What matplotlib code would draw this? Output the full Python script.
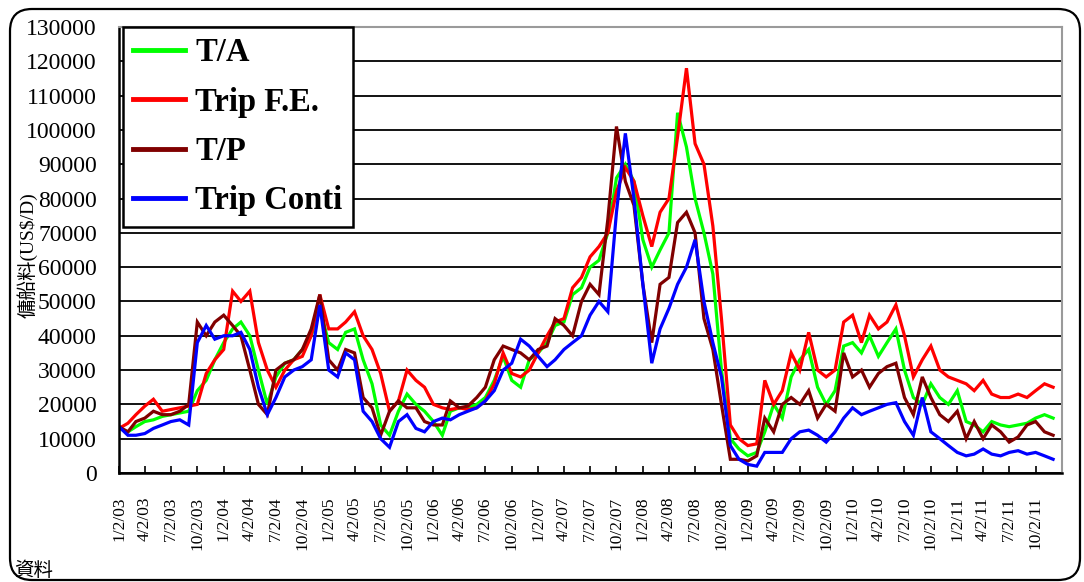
import datetime as dt
import matplotlib
matplotlib.use("Agg")
import matplotlib.pyplot as plt
from matplotlib.patches import FancyBboxPatch
from matplotlib.transforms import IdentityTransform

# Monthly charter rates (US$/day), Jan 2003 - Dec 2011
dates = [dt.datetime(2003 + i // 12, i % 12 + 1, 2) for i in range(108)]

ta = [13000, 12000, 13500, 15000, 15500, 16500, 17000, 17500, 18000, 24000,
      27000, 33000, 38000, 42000, 44000, 40000, 30000, 20000, 28000, 32000,
      33000, 36000, 40000, 48000, 38000, 36000, 41000, 42000, 33000, 26000,
      14000, 11000, 18000, 23000, 20000, 18000, 15000, 11000, 18000, 19000,
      19000, 20000, 22000, 27000, 34000, 27000, 25000, 33000, 35000, 38000,
      43000, 44000, 52000, 54000, 60000, 62000, 70000, 86000, 90000, 85000,
      68000, 60000, 65000, 70000, 105000, 95000, 80000, 70000, 58000, 30000,
      10000, 7000, 5000, 6000, 12000, 20000, 16000, 28000, 33000, 36000,
      25000, 20000, 24000, 37000, 38000, 35000, 40000, 34000, 38000, 42000,
      30000, 22000, 20000, 26000, 22000, 20000, 24000, 15000, 14000, 12000,
      15000, 14000, 13500, 14000, 14500, 16000, 17000, 16000]

trip_fe = [13000, 14500, 17000, 19500, 21500, 18000, 18500, 19000, 19500, 20000,
           29000, 33000, 36000, 53000, 50000, 53000, 38000, 30000, 25000, 30000,
           33000, 34000, 40000, 52000, 42000, 42000, 44000, 47000, 40000, 36000,
           29000, 18000, 21000, 30000, 27000, 25000, 20000, 19000, 18500, 19000,
           18500, 19000, 21000, 26000, 35000, 29000, 28000, 30000, 35000, 40000,
           44000, 45000, 54000, 57000, 63000, 66000, 70000, 82000, 89000, 85000,
           75000, 66000, 76000, 80000, 98000, 118000, 96000, 90000, 72000, 45000,
           14000, 10000, 8000, 8500, 27000, 20000, 24000, 35000, 30000, 41000,
           30000, 28000, 30000, 44000, 46000, 38000, 46000, 42000, 44000, 49000,
           40000, 28000, 33000, 37000, 30000, 28000, 27000, 26000, 24000, 27000,
           23000, 22000, 22000, 23000, 22000, 24000, 26000, 25000]

tp = [13500, 12000, 15000, 16000, 18000, 17000, 17000, 18000, 20000, 44000,
      40000, 44000, 46000, 43000, 40000, 30000, 20000, 17000, 30000, 32000,
      33000, 36000, 42000, 52000, 33000, 30000, 36000, 35000, 22000, 19000,
      11000, 18000, 21000, 19000, 19000, 15000, 14000, 14000, 21000, 19000,
      19500, 22000, 25000, 33000, 37000, 36000, 35000, 33000, 36000, 37000,
      45000, 43000, 40000, 50000, 55000, 52000, 74000, 101000, 85000, 78000,
      55000, 38000, 55000, 57000, 73000, 76000, 70000, 45000, 36000, 20000,
      4000, 4000, 3500, 5000, 16000, 12000, 20000, 22000, 20000, 24000,
      16000, 20000, 18000, 35000, 28000, 30000, 25000, 29000, 31000, 32000,
      22000, 17000, 28000, 22000, 17000, 15000, 18000, 10000, 15000, 10000,
      14000, 12000, 9000, 10500, 14000, 15000, 12000, 11000]

trip_conti = [13500, 11000, 11000, 11500, 13000, 14000, 15000, 15500, 14000, 38000,
              43000, 39000, 40000, 40000, 41000, 36000, 25000, 17000, 22000, 28000,
              30000, 31000, 33000, 49000, 30000, 28000, 35000, 33000, 18000, 15000,
              10000, 7500, 15000, 17000, 13000, 12000, 15000, 16000, 15500, 17000,
              18000, 19000, 21000, 24000, 30000, 32000, 39000, 37000, 34000, 31000,
              33000, 36000, 38000, 40000, 46000, 50000, 47000, 76000, 99000, 80000,
              55000, 32000, 42000, 48000, 55000, 60000, 68000, 50000, 38000, 28000,
              8000, 4000, 2500, 2000, 6000, 6000, 6000, 10000, 12000, 12500,
              11000, 9000, 12000, 16000, 19000, 17000, 18000, 19000, 20000, 20500,
              15000, 11000, 22000, 12000, 10000, 8000, 6000, 5000, 5500, 7000,
              5500, 5000, 6000, 6500, 5500, 6000, 5000, 4000]

series_names = ["T/A", "Trip F.E.", "T/P", "Trip Conti"]
series_colors = ["#00ff00", "#ff0000", "#800000", "#0000ff"]
series_values = [ta, trip_fe, tp, trip_conti]

tick_dates = [dt.datetime(y, m, 2) for y in range(2003, 2012) for m in (1, 4, 7, 10)]
tick_labels = [f"{d.month}/{d.day}/{d:%y}" for d in tick_dates]
y_ticks = list(range(0, 130001, 10000))

serif = "Liberation Serif"

fig = plt.figure(figsize=(10.84, 5.82), dpi=100)
fig.patch.set_facecolor("white")

# rounded outer frame
frame = FancyBboxPatch((10, 2), 1070, 571, boxstyle="round,pad=0,rounding_size=22",
                       transform=IdentityTransform(), facecolor="none",
                       edgecolor="black", linewidth=1.6, zorder=0)
fig.patches.append(frame)

ax = fig.add_axes([119 / 1084, 1 - 473 / 582, (1062 - 119) / 1084, (473 - 27) / 582])

for name, color, vals in zip(series_names, series_colors, series_values):
    ax.plot(dates, vals, color=color, lw=2.3, label=name, solid_joinstyle="miter")

ax.set_ylim(0, 130000)
ax.set_xlim(dt.datetime(2003, 1, 2), dt.datetime(2012, 1, 2))
ax.set_yticks(y_ticks)
ax.set_yticklabels([str(v) for v in y_ticks], fontfamily=serif, fontsize=17)
ax.set_xticks(tick_dates)
ax.set_xticklabels(tick_labels, rotation=90, fontfamily=serif, fontsize=12.5,
                   va="top", ha="center")
ax.tick_params(axis="x", direction="in", length=5, width=1.2, pad=17)
ax.tick_params(axis="y", length=0, pad=16)

ax.grid(axis="y", color="black", lw=1.3)
ax.set_axisbelow(True)
for side in ("left", "bottom"):
    ax.spines[side].set_linewidth(1.8)
    ax.spines[side].set_color("black")
for side in ("top", "right"):
    ax.spines[side].set_linewidth(1.5)
    ax.spines[side].set_color("#9a9a9a")

leg = ax.legend(loc="upper left", bbox_to_anchor=(0.004, 1.0), borderaxespad=0,
                prop={"family": serif, "weight": "bold", "size": 23.5},
                handlelength=1.6, handletextpad=0.3, labelspacing=0.56,
                borderpad=0.32, fancybox=False, framealpha=1)
leg.get_frame().set_edgecolor("black")
leg.get_frame().set_linewidth(1.8)
for line in leg.get_lines():
    line.set_linewidth(3.5)

fig.text(27 / 1084, 1 - 255 / 582, "傭船料(US$/D)", rotation=90, ha="center", va="center",
         fontsize=14, family=[serif, "Noto Sans CJK JP"])
fig.text(14 / 1084, 1 - 560 / 582, "資料", ha="left", va="top", fontsize=14,
         family=["Noto Sans CJK JP"])

fig.savefig("out.png", dpi=100, facecolor="white")
